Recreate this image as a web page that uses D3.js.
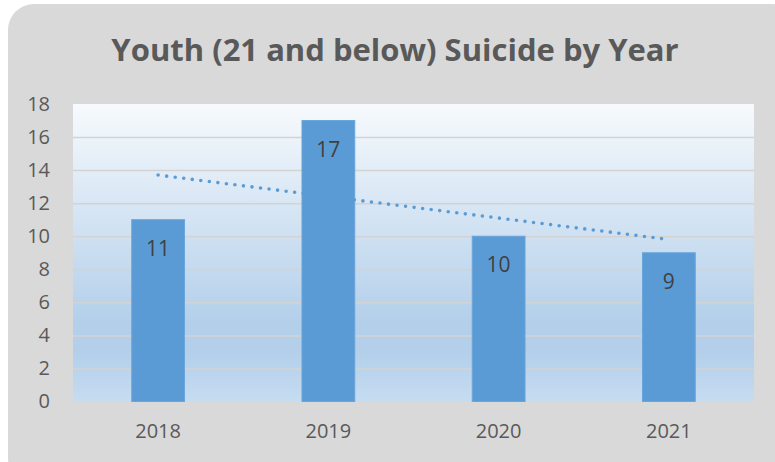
<!DOCTYPE html>
<html>
<head>
<meta charset="utf-8">
<script src="https://cdn.jsdelivr.net/npm/d3@7/dist/d3.min.js"></script>
<style>
  html, body { margin: 0; padding: 0; background: #ffffff; }
  svg { display: block; }
</style>
</head>
<body>
<svg id="chart" width="775" height="462"></svg>
<script>
// Chart data
const years = ["2018", "2019", "2020", "2021"];
const counts = [11, 17, 10, 9];
const yTicks = [0, 2, 4, 6, 8, 10, 12, 14, 16, 18];
const titleText = "Youth (21 and below) Suicide by Year";

const W = 775, H = 462;
const plot = { left: 73, right: 754, top: 104, bottom: 401.5 };
const font = "'Open Sans', 'Liberation Sans', sans-serif";

const svg = d3.select("#chart");

// Card behind the chart
svg.append("rect")
  .attr("x", 8).attr("y", 4)
  .attr("width", 790).attr("height", 480)
  .attr("rx", 26).attr("ry", 26)
  .attr("fill", "#d9d9d9");

// Plot area gradient
const defs = svg.append("defs");
const grad = defs.append("linearGradient")
  .attr("id", "plotFill")
  .attr("x1", 0).attr("y1", 0).attr("x2", 0).attr("y2", 1);
[[0, "#f7fafd"], [0.74, "#b3cfea"], [0.83, "#b3cfea"], [1, "#c6dcf1"]]
  .forEach(([o, c]) => grad.append("stop").attr("offset", o).attr("stop-color", c));

const x = d3.scaleBand()
  .domain(years)
  .range([plot.left, plot.right])
  .paddingInner(0.69)
  .paddingOuter(0.345);

const y = d3.scaleLinear()
  .domain([0, 18])
  .range([plot.bottom, plot.top]);

svg.append("rect")
  .attr("x", plot.left).attr("y", y(18))
  .attr("width", plot.right - plot.left)
  .attr("height", y(0) - y(18))
  .attr("fill", "url(#plotFill)");

// Horizontal gridlines
const yAxis = d3.axisLeft(y)
  .tickValues(yTicks)
  .tickSize(-(plot.right - plot.left))
  .tickPadding(23)
  .tickFormat(d3.format("d"));

const gy = svg.append("g")
  .attr("transform", `translate(${plot.left},0)`)
  .call(yAxis);
gy.select(".domain").remove();
gy.selectAll(".tick line")
  .attr("stroke", "#d3d3d3")
  .attr("stroke-width", 1.5)
  .attr("opacity", d => (d === 0 || d === 18) ? 0 : 1);
gy.selectAll(".tick text")
  .attr("fill", "#595959")
  .style("font-family", font)
  .style("font-size", "20px");

// Bars
svg.append("g").selectAll("rect")
  .data(years.map((yr, i) => ({ yr, v: counts[i] })))
  .join("rect")
  .attr("x", d => x(d.yr))
  .attr("y", d => y(d.v))
  .attr("width", x.bandwidth())
  .attr("height", d => y(0) - y(d.v))
  .attr("fill", "#5b9bd5")
  .attr("stroke", "#6aa6db")
  .attr("stroke-width", 1);

// Value labels inside bars
svg.append("g").selectAll("text")
  .data(years.map((yr, i) => ({ yr, v: counts[i] })))
  .join("text")
  .attr("x", d => x(d.yr) + x.bandwidth() / 2)
  .attr("y", d => y(d.v) + 28)
  .attr("text-anchor", "middle")
  .attr("dominant-baseline", "central")
  .attr("fill", "#404040")
  .style("font-family", font)
  .style("font-size", "21px")
  .text(d => d.v);

// Linear trendline (least squares over the year index)
const n = counts.length;
const xs = counts.map((_, i) => i + 1);
const mx = d3.mean(xs), my = d3.mean(counts);
const slope = d3.sum(xs, (xi, i) => (xi - mx) * (counts[i] - my)) / d3.sum(xs, xi => (xi - mx) ** 2);
const intercept = my - slope * mx;
const trend = years.map((yr, i) => ({ yr, v: intercept + slope * (i + 1) }));

svg.append("path")
  .datum([trend[0], trend[n - 1]])
  .attr("d", d3.line()
    .x(d => x(d.yr) + x.bandwidth() / 2)
    .y(d => y(d.v)))
  .attr("fill", "none")
  .attr("stroke", "#5b9bd5")
  .attr("stroke-width", 3.6)
  .attr("stroke-linecap", "round")
  .attr("stroke-dasharray", "0 8.6");

// Category axis labels
const xAxis = d3.axisBottom(x).tickSize(0).tickPadding(22);
const gx = svg.append("g")
  .attr("transform", `translate(0,${plot.bottom})`)
  .call(xAxis);
gx.select(".domain").remove();
gx.selectAll(".tick text")
  .attr("fill", "#595959")
  .style("font-family", font)
  .style("font-size", "20px");

// Title
svg.append("text")
  .attr("x", 395)
  .attr("y", 61)
  .attr("text-anchor", "middle")
  .attr("fill", "#595959")
  .style("font-family", font)
  .style("font-weight", "bold")
  .style("font-size", "31px")
  .text(titleText);
</script>
</body>
</html>
